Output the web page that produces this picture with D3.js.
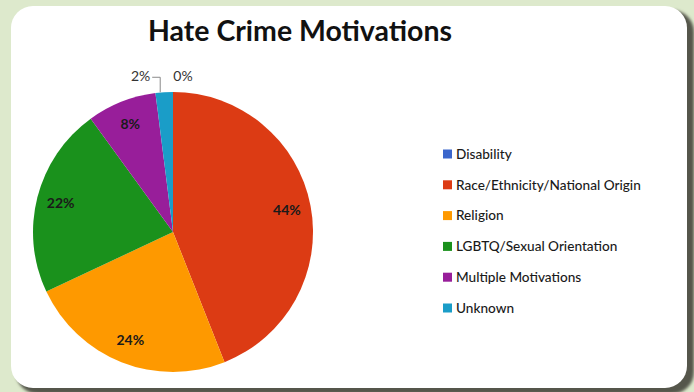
<!DOCTYPE html>
<html>
<head>
<meta charset="utf-8">
<script src="https://cdn.jsdelivr.net/npm/d3@7"></script>
<style>
  body { margin: 0; background: #dde9cc; }
  svg { display: block; }
  text { font-family: Lato, "Open Sans", sans-serif; }
</style>
</head>
<body>
<svg id="chart" width="694" height="392"></svg>
<script>
// chart data
const categories = ["Disability", "Race/Ethnicity/National Origin", "Religion",
                    "LGBTQ/Sexual Orientation", "Multiple Motivations", "Unknown"];
const values = [0, 44, 24, 22, 8, 2];
const colors = ["#3b66cc", "#dc3b14", "#fe9900", "#1a911c", "#981e9a", "#1a9dc8"];

const svg = d3.select("#chart");

// card with shadow
const defs = svg.append("defs");
defs.append("filter").attr("id", "blur")
    .append("feGaussianBlur").attr("stdDeviation", 1.5);

svg.append("rect")
    .attr("x", 16).attr("y", 10).attr("width", 678).attr("height", 384)
    .attr("rx", 22)
    .style("fill", "#55574b")
    .attr("filter", "url(#blur)");
svg.append("rect")
    .attr("x", 11).attr("y", 6).attr("width", 676).attr("height", 382)
    .attr("rx", 22)
    .style("fill", "#fff");

svg.append("text")
    .attr("x", 300).attr("y", 41)
    .attr("text-anchor", "middle")
    .attr("textLength", 304).attr("lengthAdjust", "spacingAndGlyphs")
    .style("font-size", "28px").style("font-weight", "bold").style("fill", "#111")
    .text("Hate Crime Motivations");

// pie
const cx = 173, cy = 232, r = 140;
const data = categories.map((c, i) => ({ name: c, value: values[i], color: colors[i] }));
const pie = d3.pie().sort(null).value(d => d.value);
const arcs = pie(data);
const arc = d3.arc().innerRadius(0).outerRadius(r);
const labelArc = d3.arc().innerRadius(116).outerRadius(116);

const g = svg.append("g").attr("transform", `translate(${cx},${cy})`);
g.selectAll("path")
    .data(arcs)
    .enter().append("path")
    .attr("d", arc)
    .style("fill", d => d.data.color);

// inside labels for big slices
g.selectAll("text.inside")
    .data(arcs.filter(d => d.data.value >= 5))
    .enter().append("text")
    .attr("class", "inside")
    .attr("transform", d => `translate(${labelArc.centroid(d)})`)
    .attr("text-anchor", "middle")
    .attr("dy", "0.35em")
    .style("font-size", "14px").style("font-weight", "bold").style("fill", "#1a1a1a")
    .text(d => d.data.value + "%");

// outside labels for the small slices
const small = arcs.filter(d => d.data.value < 5);
small.forEach(function (d) {
    let mid = (d.startAngle + d.endAngle) / 2;
    let px = r * Math.sin(mid), py = -r * Math.cos(mid);
    if (d.data.value > 0) {
        // label to the left with elbow leader
        g.append("polyline")
            .attr("points", [[px - 12, py - 15], [px - 4, py - 15], [px - 4, py]].join(" "))
            .style("fill", "none").style("stroke", "#8a8a8a").style("stroke-width", 1);
        g.append("text")
            .attr("x", px - 14).attr("y", py - 16)
            .attr("text-anchor", "end").attr("dy", "0.35em")
            .style("font-size", "14px").style("fill", "#333")
            .text(d.data.value + "%");
    } else {
        g.append("text")
            .attr("x", px + 10).attr("y", py - 16)
            .attr("text-anchor", "middle").attr("dy", "0.35em")
            .style("font-size", "14px").style("fill", "#333")
            .text(d.data.value + "%");
    }
});

// legend
const legend = svg.append("g").attr("transform", "translate(443,154)");
const row = legend.selectAll("g")
    .data(data)
    .enter().append("g")
    .attr("transform", (d, i) => `translate(0,${i * 30.8})`);
row.append("rect")
    .attr("x", 0).attr("y", -4.5).attr("width", 9).attr("height", 9)
    .style("fill", d => d.color);
row.append("text")
    .attr("x", 13).attr("dy", "0.35em")
    .style("font-size", "13.6px").style("font-weight", 500).style("fill", "#1a1a1a")
    .text(d => d.name);
</script>
</body>
</html>
